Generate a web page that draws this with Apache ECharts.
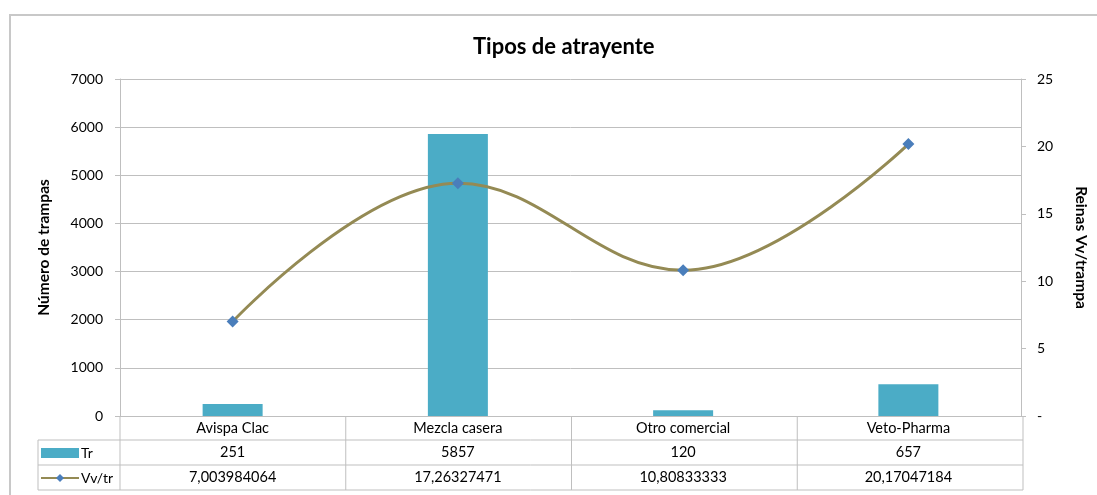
<!DOCTYPE html>
<html>
<head>
<meta charset="utf-8">
<script src="https://cdn.jsdelivr.net/npm/echarts@6/dist/echarts.min.js"></script>
<style>
  html, body { margin: 0; padding: 0; background: #fff; }
  #main { width: 1097px; height: 495px; }
</style>
</head>
<body>
<div id="main"></div>
<script>
// datos de la tabla
var categories = ['Avispa Clac', 'Mezcla casera', 'Otro comercial', 'Veto-Pharma'];
var trValues = [251, 5857, 120, 657];
var vvValues = [7.003984064, 17.26327471, 10.80833333, 20.17047184];
var vvLabels = ['7,003984064', '17,26327471', '10,80833333', '20,17047184'];

var gridLeft = 120, gridRight = 1023, gridTop = 79, gridBottom = 416;
var colW = (gridRight - gridLeft) / categories.length;
var lineCol = '#bfbfbf';

// lineas de la tabla de datos
var tableLines = [];
[440, 465, 490].forEach(function (y) {
  tableLines.push({ type: 'line', shape: { x1: 38, y1: y, x2: gridRight, y2: y }, style: { stroke: lineCol, lineWidth: 1 } });
});
tableLines.push({ type: 'line', shape: { x1: 38, y1: 440, x2: 38, y2: 490 }, style: { stroke: lineCol, lineWidth: 1 } });
for (var i = 0; i <= categories.length; i++) {
  var x = gridLeft + i * colW;
  tableLines.push({ type: 'line', shape: { x1: x, y1: gridBottom, x2: x, y2: 490 }, style: { stroke: lineCol, lineWidth: 1 } });
}
// marco exterior
tableLines.push({ type: 'rect', shape: { x: 10, y: 15, width: 1200, height: 600 }, style: { fill: 'none', stroke: '#c8c8c8', lineWidth: 2 } });

var myChart = echarts.init(document.getElementById('main'));
var option = {
  backgroundColor: '#fff',
  animation: false,
  textStyle: { fontFamily: 'Lato' },
  title: {
    text: 'Tipos de atrayente',
    left: 468,
    top: 31,
    textStyle: { fontFamily: 'Lato', fontSize: 22, fontWeight: 'bold', color: '#000' }
  },
  legend: {
    orient: 'vertical',
    left: 40,
    top: 445,
    padding: 0,
    itemGap: 9,
    itemWidth: 38,
    itemHeight: 10,
    textStyle: { fontFamily: 'Lato', fontSize: 14, lineHeight: 16, color: '#000', padding: [0, 0, 0, -3] },
    data: [
      { name: 'Tr', icon: 'rect' },
      { name: 'Vv/tr' }
    ]
  },
  grid: { left: gridLeft, right: 1097 - gridRight, top: gridTop, bottom: 495 - gridBottom },
  xAxis: {
    type: 'category',
    data: categories,
    axisTick: { show: false },
    axisLine: { lineStyle: { color: lineCol } },
    axisLabel: {
      margin: 0,
      interval: 0,
      formatter: function (v, idx) {
        return '{a|' + v + '}\n{a|' + trValues[idx] + '}\n{a|' + vvLabels[idx] + '}';
      },
      rich: { a: { fontFamily: 'Lato', fontSize: 14.5, color: '#000', lineHeight: 24.5, align: 'center' } }
    }
  },
  yAxis: [
    {
      type: 'value',
      min: 0, max: 7000, interval: 1000,
      name: 'Número de trampas',
      nameLocation: 'middle',
      nameGap: 68,
      nameTextStyle: { fontFamily: 'Lato', fontSize: 15.5, fontWeight: 'bold', color: '#000' },
      axisLine: { show: true, lineStyle: { color: lineCol } },
      axisTick: { show: true, length: 5, lineStyle: { color: lineCol } },
      axisLabel: {
        fontFamily: 'Lato', fontSize: 14, color: '#000', margin: 17,
        formatter: function (v) { return String(v); }
      },
      splitLine: { lineStyle: { color: lineCol } }
    },
    {
      type: 'value',
      min: 0, max: 25, interval: 5,
      name: 'Reinas Vv/trampa',
      nameLocation: 'middle',
      nameGap: 52,
      nameRotate: -90,
      nameTextStyle: { fontFamily: 'Lato', fontSize: 15.5, fontWeight: 'bold', color: '#000' },
      axisLine: { show: true, lineStyle: { color: lineCol } },
      axisTick: { show: true, length: 5, lineStyle: { color: lineCol } },
      axisLabel: {
        fontFamily: 'Lato', fontSize: 14, color: '#000', margin: 16,
        formatter: function (v) { return v === 0 ? '-' : String(v); }
      },
      splitLine: { show: false }
    }
  ],
  series: [
    {
      name: 'Tr',
      type: 'bar',
      data: trValues,
      barWidth: 60,
      itemStyle: { color: '#4bacc6' }
    },
    {
      name: 'Vv/tr',
      type: 'line',
      yAxisIndex: 1,
      data: vvValues,
      smooth: 0.4,
      symbol: 'diamond',
      symbolSize: 12,
      itemStyle: { color: '#4a7ebb' },
      lineStyle: { color: '#948a54', width: 3 }
    }
  ],
  graphic: tableLines
};
myChart.setOption(option);
</script>
</body>
</html>
